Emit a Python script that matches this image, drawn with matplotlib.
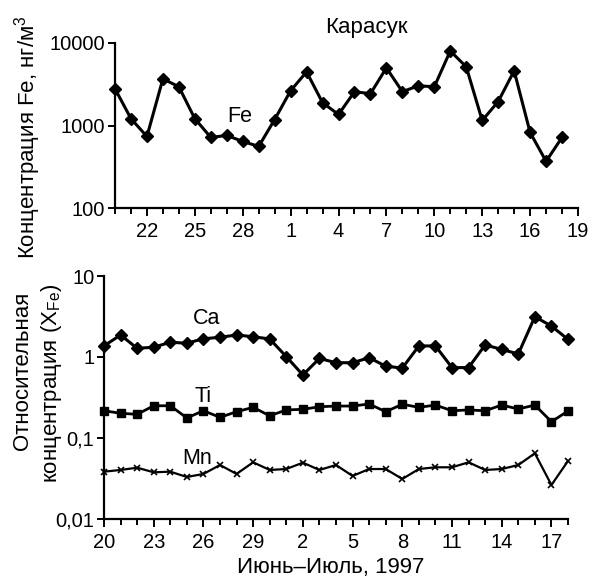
import numpy as np
import matplotlib
matplotlib.use("Agg")
import matplotlib.pyplot as plt
from matplotlib.ticker import FixedLocator, FixedFormatter

plt.rcParams['font.family'] = ['Liberation Sans', 'DejaVu Sans']
plt.rcParams['mathtext.fontset'] = 'custom'
plt.rcParams['mathtext.rm'] = 'Liberation Sans'

# daily samples, 20 June .. 18 July 1997
fe = [2790, 1210, 736, 3680, 2950, 1210, 717, 758, 641, 558,
      1180, 2640, 4470, 1890, 1360, 2570, 2430, 5000, 2570, 3030,
      2950, 8010, 5140, 1150, 1950, 4600, 824, 368, 717]
ca = [1.37, 1.87, 1.28, 1.32, 1.52, 1.48, 1.68, 1.75, 1.87, 1.78,
      1.67, 1.01, 0.60, 0.96, 0.85, 0.85, 0.98, 0.77, 0.73, 1.37,
      1.37, 0.74, 0.74, 1.41, 1.24, 1.09, 3.14, 2.41, 1.65]
ti = [0.217, 0.202, 0.196, 0.250, 0.250, 0.177, 0.217, 0.180, 0.211, 0.239,
      0.188, 0.222, 0.226, 0.243, 0.248, 0.248, 0.263, 0.211, 0.261, 0.239,
      0.255, 0.217, 0.222, 0.217, 0.255, 0.228, 0.255, 0.159, 0.215]
mn = [0.0384, 0.0403, 0.0430, 0.0377, 0.0384, 0.0330, 0.0360, 0.0464, 0.0360, 0.0501,
      0.0403, 0.0414, 0.0496, 0.0403, 0.0464, 0.0340, 0.0414, 0.0414, 0.0312, 0.0414,
      0.0435, 0.0435, 0.0501, 0.0403, 0.0414, 0.0464, 0.0647, 0.0263, 0.0520]

top_days = ["22", "25", "28", "1", "4", "7", "10", "13", "16", "19"]
bot_days = ["20", "23", "26", "29", "2", "5", "8", "11", "14", "17"]
top_yticks = [100, 1000, 10000]
top_ylabels = ["100", "1000", "10000"]
bot_yticks = [0.01, 0.1, 1, 10]
bot_ylabels = ["0,01", "0,1", "1", "10"]

x = np.arange(len(fe))
W, H = 592, 581
fig = plt.figure(figsize=(W / 100, H / 100), dpi=100)

def px_axes(l, t, r, b):
    return fig.add_axes([l / W, 1 - b / H, (r - l) / W, (b - t) / H])

def style(ax, first_major, labels, xmax):
    for s in ["top", "right"]:
        ax.spines[s].set_visible(False)
    for s in ["left", "bottom"]:
        ax.spines[s].set_linewidth(1.6)
    ax.set_xlim(0, xmax)
    ax.xaxis.set_major_locator(FixedLocator(np.arange(first_major, first_major + 3 * len(labels), 3)))
    ax.xaxis.set_major_formatter(FixedFormatter(labels))
    ax.xaxis.set_minor_locator(FixedLocator(np.arange(0, xmax + 1)))
    ax.tick_params(axis="x", which="major", length=6, width=1.4, labelsize=14.5, pad=4)
    ax.tick_params(axis="x", which="minor", length=4, width=1.4)
    ax.tick_params(axis="y", which="major", length=5, width=1.4, labelsize=14.5, pad=2)
    ax.tick_params(axis="y", which="minor", length=0)

# Fe concentration
ax1 = px_axes(115, 43, 578, 208)
ax1.plot(x, fe, color="black", lw=2.2, marker="D", ms=6.3, clip_on=False)
ax1.set_yscale("log")
ax1.set_ylim(100, 10000)
ax1.yaxis.set_major_locator(FixedLocator(top_yticks))
ax1.yaxis.set_major_formatter(FixedFormatter(top_ylabels))
style(ax1, 2, top_days, 29)
fig.text(240 / W, 1 - 116 / H, "Fe", fontsize=15.5, ha="center", va="center")
fig.text(366 / W, 1 - 28 / H, "Карасук", fontsize=16, ha="center", va="center")
fig.text(28 / W, 1 - 137 / H, "Концентрация Fe, нг/м$^3$", fontsize=16, rotation=90, ha="center", va="center")

# element ratios to Fe
ax2 = px_axes(104, 276, 568, 519)
ax2.plot(x, ca, color="black", lw=2.2, marker="D", ms=6.3, clip_on=False)
ax2.plot(x, ti, color="black", lw=2.0, marker="s", ms=5.5, clip_on=False)
ax2.plot(x, mn, color="black", lw=1.6, marker="x", ms=4.5, mew=1.2, clip_on=False)
ax2.set_yscale("log")
ax2.set_ylim(0.01, 10)
ax2.yaxis.set_major_locator(FixedLocator(bot_yticks))
ax2.yaxis.set_major_formatter(FixedFormatter(bot_ylabels))
style(ax2, 0, bot_days, 28)
fig.text(207 / W, 1 - 319 / H, "Ca", fontsize=15.5, ha="center", va="center")
fig.text(203 / W, 1 - 396 / H, "Ti", fontsize=15.5, ha="center", va="center")
fig.text(197 / W, 1 - 459 / H, "Mn", fontsize=15.5, ha="center", va="center")
fig.text(23 / W, 1 - 371 / H, "Относительная", fontsize=16, rotation=90, ha="center", va="center")
fig.text(52 / W, 1 - 383 / H, r"концентрация ($\mathregular{X_{Fe}}$)", fontsize=16, rotation=90, ha="center", va="center")
fig.text(331 / W, 1 - 567 / H, "Июнь–Июль, 1997", fontsize=16, ha="center", va="center")

fig.savefig("out.png", dpi=100)
